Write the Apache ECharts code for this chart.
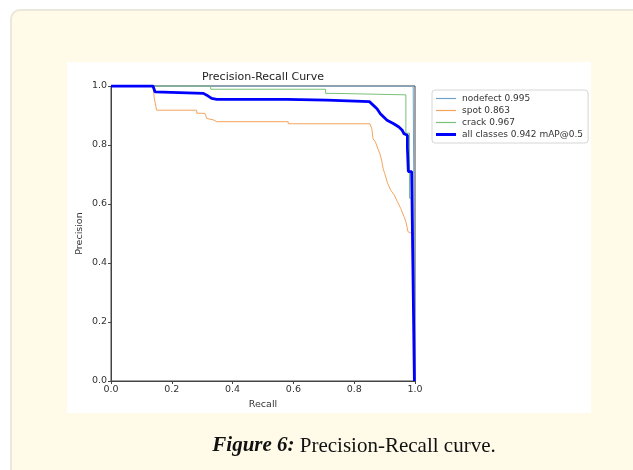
<!DOCTYPE html>
<html>
<head>
<meta charset="utf-8">
<script src="https://cdn.jsdelivr.net/npm/echarts@6/dist/echarts.min.js"></script>
<style>
  html, body { margin: 0; padding: 0; background: #fff; }
  #chart { width: 633px; height: 470px; }
</style>
</head>
<body>
<div id="chart"></div>
<script>
// 各类别的 PR 曲线点 [recall, precision]
var nodefectPR = [[0, 1], [0.994, 1], [1.0, 0]];

var spotPR = [
  [0, 1], [0.139, 1], [0.142, 0.96], [0.15, 0.918], [0.282, 0.918], [0.282, 0.908],
  [0.309, 0.907], [0.315, 0.89], [0.337, 0.885], [0.348, 0.879], [0.583, 0.879],
  [0.583, 0.872], [0.852, 0.872], [0.858, 0.855], [0.862, 0.821], [0.87, 0.81],
  [0.878, 0.787], [0.884, 0.772], [0.89, 0.749], [0.895, 0.721], [0.9, 0.704],
  [0.91, 0.67], [0.92, 0.647], [0.932, 0.63], [0.942, 0.608], [0.953, 0.585],
  [0.964, 0.557], [0.97, 0.54], [0.977, 0.506], [0.99, 0.5], [0.998, 0]
];

var crackPR = [
  [0, 1], [0.328, 1], [0.328, 0.989], [0.706, 0.989], [0.706, 0.975], [0.737, 0.975],
  [0.737, 0.97], [0.97, 0.97], [0.97, 0.84], [0.982, 0.84], [0.982, 0.62],
  [0.992, 0.62], [0.997, 0]
];

var allPR = [
  [0, 1], [0.138, 1], [0.145, 0.98], [0.15, 0.975], [0.304, 0.975], [0.315, 0.969],
  [0.331, 0.958], [0.348, 0.955], [0.578, 0.955], [0.578, 0.952], [0.71, 0.952],
  [0.71, 0.947], [0.85, 0.947], [0.856, 0.943], [0.875, 0.923], [0.886, 0.906],
  [0.897, 0.895], [0.908, 0.884], [0.93, 0.872], [0.947, 0.861], [0.958, 0.85],
  [0.964, 0.838], [0.975, 0.833], [0.975, 0.79], [0.978, 0.79], [0.978, 0.71],
  [0.989, 0.71], [0.998, 0]
];

var legendNames = ['nodefect 0.995', 'spot 0.863', 'crack 0.967', 'all classes 0.942 mAP@0.5'];
var axisTicks = [0, 0.2, 0.4, 0.6, 0.8, 1.0];

var chart = echarts.init(document.getElementById('chart'), null, { renderer: 'canvas' });

var tickFont = { fontFamily: 'DejaVu Sans', fontSize: 9.5, color: '#333' };

// 图例只画一条线段，不带圆点
var thinIcon = 'path://M0,0 L100,0 L100,6 L0,6 Z';
var thickIcon = 'path://M0,0 L100,0 L100,15 L0,15 Z';

function valueAxis(name, nameGap, rotate) {
  return {
    type: 'value',
    min: axisTicks[0],
    max: axisTicks[axisTicks.length - 1],
    interval: 0.2,
    name: name,
    nameLocation: 'middle',
    nameGap: nameGap,
    nameRotate: rotate,
    nameTextStyle: tickFont,
    axisLine: { show: true, lineStyle: { color: '#444', width: 1 } },
    axisTick: { show: true, length: 3, lineStyle: { color: '#444' } },
    axisLabel: Object.assign({ margin: 4, formatter: function(v) { return v.toFixed(1); } }, tickFont),
    splitLine: { show: false }
  };
}

function prSeries(name, data, color, width, z) {
  return {
    type: 'line',
    name: name,
    data: data,
    symbol: 'none',
    animation: false,
    lineStyle: { color: color, width: width },
    itemStyle: { color: color },
    z: z
  };
}

var option = {
  animation: false,
  graphic: [
    {
      type: 'rect', z: -10, silent: true,
      shape: { x: 11, y: 10, width: 660, height: 500, r: 9 },
      style: { fill: '#fffbe8', stroke: '#ebe7da', lineWidth: 2 }
    },
    {
      type: 'rect', z: -9, silent: true,
      shape: { x: 67, y: 62, width: 524, height: 351 },
      style: { fill: '#ffffff' }
    },
    {
      type: 'text', z: 10, x: 263, y: 77,
      style: {
        text: 'Precision-Recall Curve',
        align: 'center', verticalAlign: 'middle',
        fontFamily: 'DejaVu Sans', fontSize: 11, fill: '#222'
      }
    },
    {
      type: 'text', z: 10, x: 354, y: 446,
      style: {
        text: '{b|Figure 6:} Precision-Recall curve.',
        align: 'center', verticalAlign: 'middle',
        fontFamily: 'Liberation Serif', fontSize: 21, fill: '#111',
        rich: {
          b: { fontFamily: 'Liberation Serif', fontSize: 21, fontWeight: 'bold', fontStyle: 'italic', fill: '#111' }
        }
      }
    }
  ],
  grid: {
    left: 111, top: 86, width: 304, height: 295,
    show: true, borderColor: '#444', borderWidth: 1, backgroundColor: 'transparent'
  },
  legend: {
    data: [
      { name: legendNames[0], icon: thinIcon },
      { name: legendNames[1], icon: thinIcon },
      { name: legendNames[2], icon: thinIcon },
      { name: legendNames[3], icon: thickIcon }
    ],
    orient: 'vertical',
    left: 432, top: 90,
    padding: [4, 5, 4, 4],
    itemGap: 3,
    itemWidth: 20,
    itemHeight: 10,
    symbolKeepAspect: true,
    backgroundColor: '#fff',
    borderColor: '#d6d6d6',
    borderWidth: 1,
    borderRadius: 3,
    textStyle: { fontFamily: 'DejaVu Sans', fontSize: 9, color: '#333', padding: [0, 0, 0, 1] }
  },
  xAxis: valueAxis('Recall', 14, 0),
  yAxis: valueAxis('Precision', 26, 90),
  series: [
    prSeries(legendNames[0], nodefectPR, '#6fa3cc', 1, 2),
    prSeries(legendNames[1], spotPR, '#f3a45e', 1, 3),
    prSeries(legendNames[2], crackPR, '#79c079', 1, 4),
    prSeries(legendNames[3], allPR, '#0000ff', 2.8, 5)
  ]
};

chart.setOption(option);
</script>
</body>
</html>
